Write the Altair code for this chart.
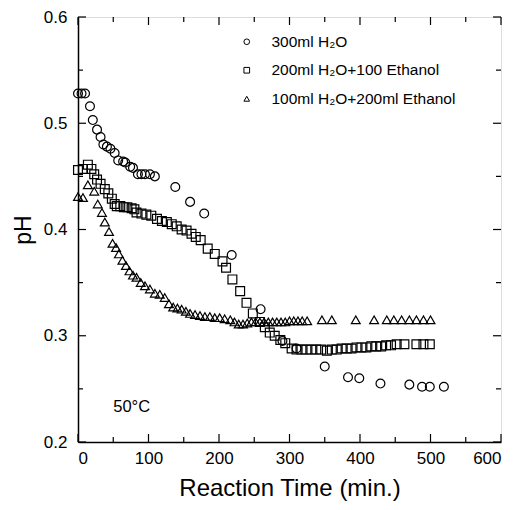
import altair as alt
import pandas as pd

FONT = "Liberation Sans"

labels = ["300ml H\u2082O", "200ml H\u2082O+100 Ethanol", "100ml H\u2082O+200ml Ethanol"]

x_h2o = [0, 5, 10, 17, 21, 27, 32, 36, 41, 46, 52, 57, 64, 67, 74, 78, 85, 90, 95, 102, 109,
         138, 159, 179, 218, 259, 290, 310, 350, 383, 399, 429, 470, 488, 499, 519]
y_h2o = [0.528, 0.528, 0.528, 0.516, 0.503, 0.494, 0.487, 0.480, 0.478, 0.476, 0.472, 0.465,
         0.464, 0.463, 0.459, 0.458, 0.452, 0.452, 0.452, 0.452, 0.450,
         0.440, 0.426, 0.415, 0.376, 0.325, 0.295, 0.288, 0.271, 0.261, 0.260, 0.255, 0.254,
         0.252, 0.252, 0.252]

x_mix1 = [0, 7, 14, 19, 23, 27, 32, 38, 43, 48, 52, 55, 60, 65, 70, 76, 80, 83, 90, 97, 104,
          112, 119, 126, 133, 140, 147, 154, 161, 167, 174, 184, 194, 205, 210, 219, 230, 239,
          248, 258, 265, 272, 279, 287, 294, 303, 310, 317, 324, 331, 338, 345, 353, 360, 367,
          374, 381, 388, 395, 402, 409, 416, 423, 430, 437, 444, 452, 463, 480, 490, 499]
y_mix1 = [0.456, 0.457, 0.461, 0.457, 0.452, 0.447, 0.443, 0.438, 0.434, 0.429, 0.424, 0.422,
          0.422, 0.421, 0.421, 0.420, 0.419, 0.416, 0.415, 0.414, 0.413, 0.410, 0.408, 0.407,
          0.405, 0.403, 0.400, 0.399, 0.396, 0.393, 0.390, 0.382, 0.377, 0.370, 0.364, 0.353,
          0.342, 0.331, 0.321, 0.313, 0.308, 0.303, 0.300, 0.296, 0.293, 0.288, 0.287, 0.287,
          0.287, 0.287, 0.287, 0.287, 0.286, 0.287, 0.287, 0.288, 0.288, 0.288, 0.289, 0.289,
          0.289, 0.290, 0.290, 0.290, 0.291, 0.291, 0.292, 0.292, 0.292, 0.292, 0.292]

x_mix2 = [0, 7, 14, 23, 28, 34, 38, 44, 49, 54, 58, 63, 68, 73, 78, 83, 89, 95, 102, 109, 116,
          123, 129, 135, 141, 147, 153, 159, 166, 173, 180, 187, 194, 201, 208, 216, 222, 228,
          234, 240, 246, 252, 258, 264, 270, 276, 282, 288, 294, 300, 306, 312, 318, 325, 346,
          360, 394, 420, 438, 448, 459, 470, 480, 490, 500]
y_mix2 = [0.431, 0.430, 0.442, 0.436, 0.424, 0.416, 0.407, 0.398, 0.387, 0.383, 0.377, 0.371,
          0.366, 0.361, 0.357, 0.355, 0.350, 0.347, 0.344, 0.340, 0.339, 0.336, 0.330, 0.327,
          0.326, 0.325, 0.323, 0.321, 0.320, 0.319, 0.318, 0.318, 0.317, 0.317, 0.316, 0.315,
          0.313, 0.311, 0.311, 0.312, 0.313, 0.313, 0.313, 0.313, 0.313, 0.313, 0.313, 0.313,
          0.313, 0.314, 0.314, 0.314, 0.314, 0.314, 0.315, 0.315, 0.315, 0.315, 0.315, 0.315,
          0.315, 0.315, 0.315, 0.315, 0.315]

x_major = [0, 100, 200, 300, 400, 500, 600]
x_minor = [50, 150, 250, 350, 450, 550]
y_major = [0.2, 0.3, 0.4, 0.5, 0.6]
y_minor = [0.25, 0.35, 0.45, 0.55]

annot_text = ["50\u00b0C"]
annot_x = [50]
annot_y = [0.233]

W, H = 423, 425

rows = []
for lab, xs, ys in [(labels[0], x_h2o, y_h2o), (labels[1], x_mix1, y_mix1), (labels[2], x_mix2, y_mix2)]:
    for a, b in zip(xs, ys):
        rows.append({"t": a, "ph": b, "series": lab})
df = pd.DataFrame(rows)

xscale = alt.Scale(domain=[0, 600], nice=False, zero=False)
yscale = alt.Scale(domain=[0.2, 0.6], nice=False, zero=False)

points = alt.Chart(df).mark_point(filled=False, color="black", size=78, strokeWidth=1.2, opacity=1).encode(
    x=alt.X("t:Q", scale=xscale,
            axis=alt.Axis(values=x_major, format="d", title="Reaction Time (min.)",
                          ticks=False, grid=False, labelFontSize=17, labelPadding=8,
                          titleFontSize=24, titleFontWeight="normal", titlePadding=10,
                          labelFont=FONT, titleFont=FONT, domainColor="black",
                          domainWidth=1.5, labelColor="black", titleColor="black")),
    y=alt.Y("ph:Q", scale=yscale,
            axis=alt.Axis(values=y_major, format=".1f", title="pH",
                          ticks=False, grid=False, labelFontSize=17, labelPadding=11,
                          titleFontSize=23, titleFontWeight="normal", titlePadding=8,
                          labelFont=FONT, titleFont=FONT, domainColor="black",
                          domainWidth=1.5, labelColor="black", titleColor="black")),
    shape=alt.Shape("series:N",
                    scale=alt.Scale(domain=labels, range=["circle", "square", "triangle-up"]),
                    legend=alt.Legend(title=None, orient="none", legendX=161, legendY=17,
                                      labelFont=FONT, labelFontSize=15.5, symbolSize=32,
                                      symbolStrokeColor="black", symbolFillColor="transparent",
                                      symbolStrokeWidth=1, rowPadding=11.5, labelOffset=17,
                                      labelLimit=0, padding=0, labelColor="black")),
)

def xticks(vals, length, top):
    d = pd.DataFrame({"v": vals})
    if top:
        return alt.Chart(d).mark_rule(color="black", strokeWidth=1.2).encode(
            x=alt.X("v:Q", scale=xscale), y=alt.value(0), y2=alt.value(length))
    return alt.Chart(d).mark_rule(color="black", strokeWidth=1.2).encode(
        x=alt.X("v:Q", scale=xscale), y=alt.value(H), y2=alt.value(H - length))

def yticks(vals, length, right):
    d = pd.DataFrame({"v": vals})
    if right:
        return alt.Chart(d).mark_rule(color="black", strokeWidth=1.2).encode(
            y=alt.Y("v:Q", scale=yscale), x=alt.value(W), x2=alt.value(W - length))
    return alt.Chart(d).mark_rule(color="black", strokeWidth=1.2).encode(
        y=alt.Y("v:Q", scale=yscale), x=alt.value(0), x2=alt.value(length))

ticks = [
    xticks(x_major, 8, False), xticks(x_minor, 5, False),
    xticks(x_major, 8, True), xticks(x_minor, 5, True),
    yticks(y_major, 8, False), yticks(y_minor, 5, False),
    yticks(y_major, 8, True), yticks(y_minor, 5, True),
]

annot = alt.Chart(pd.DataFrame({"x": annot_x, "y": annot_y, "s": annot_text})).mark_text(
    align="left", baseline="middle", fontSize=16.5, font=FONT, color="black").encode(
    x=alt.X("x:Q", scale=xscale), y=alt.Y("y:Q", scale=yscale), text="s:N")

chart = alt.layer(points, annot, *ticks).properties(
    width=W, height=H,
    autosize=alt.AutoSizeParams(type="none"),
    padding={"left": 70, "top": 9, "right": 10, "bottom": 60},
).configure_view(stroke="black", strokeWidth=1.5).configure(background="white")

chart.save("out.html", embed_options={"renderer": "svg", "actions": False})
